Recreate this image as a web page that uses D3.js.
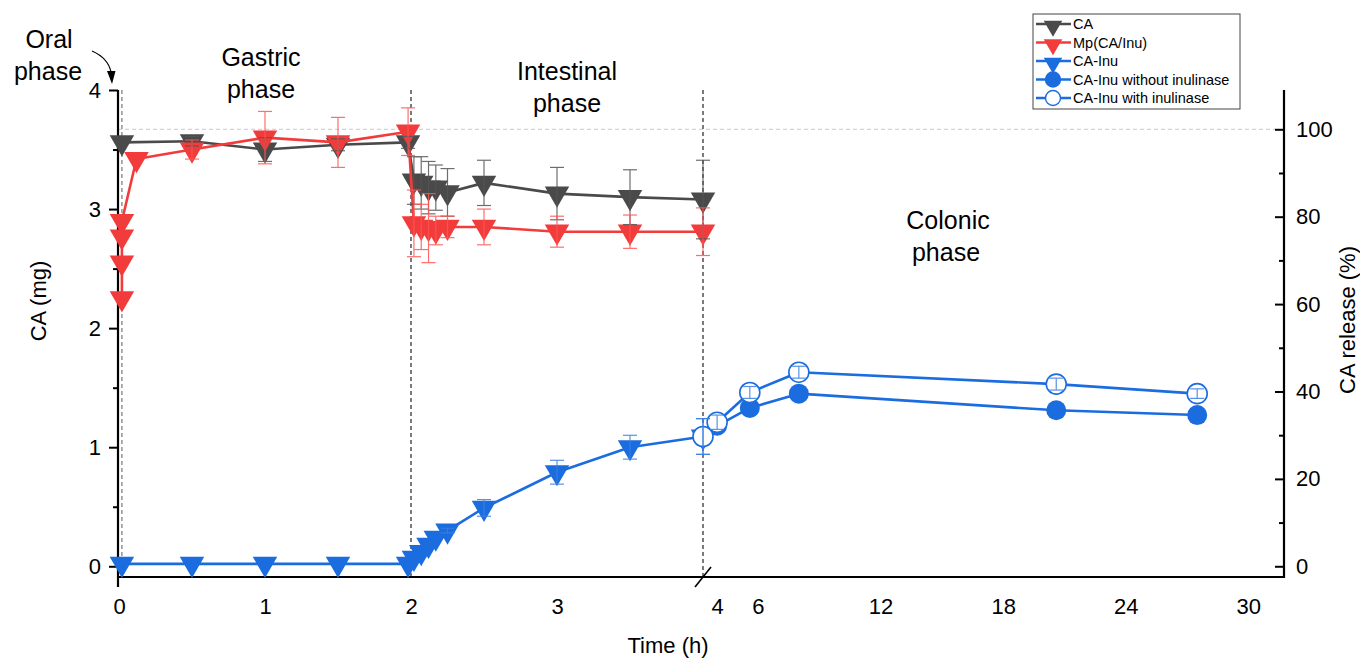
<!DOCTYPE html>
<html>
<head>
<meta charset="utf-8">
<script src="https://cdn.jsdelivr.net/npm/d3@7"></script>
<style>
  body { margin: 0; background: #fff; }
  svg text { font-family: Arial, "Liberation Sans", sans-serif; fill: #000; }
</style>
</head>
<body>
<svg id="chart" width="1360" height="658"></svg>
<script>
// ---- data ----
const caTime = [0.02, 0.5, 1, 1.5, 1.98, 2.02, 2.07, 2.12, 2.17, 2.25, 2.5, 3, 3.5, 4];
const caMg   = [3.56, 3.57, 3.5, 3.54, 3.56, 3.24, 3.22, 3.18, 3.18, 3.14, 3.22, 3.13, 3.1, 3.08];
const caErr  = [0, 0.04, 0.1, 0.05, 0.05, 0.2, 0.22, 0.22, 0.19, 0.2, 0.19, 0.22, 0.23, 0.33];

const mpTime = [0.02, 0.02, 0.02, 0.02, 0.12, 0.5, 1, 1.5, 1.98, 2.02, 2.07, 2.12, 2.17, 2.25, 2.5, 3, 3.5, 4];
const mpMg   = [2.25, 2.55, 2.77, 2.9, 3.42, 3.5, 3.6, 3.56, 3.65, 2.88, 2.85, 2.84, 2.82, 2.85, 2.85, 2.81, 2.81, 2.81];
const mpErr  = [0, 0, 0, 0, 0, 0.08, 0.22, 0.21, 0.2, 0.28, 0.19, 0.29, 0.12, 0.09, 0.15, 0.13, 0.14, 0.2];

const inuTime = [0.02, 0.5, 1, 1.5, 1.98, 2.02, 2.07, 2.12, 2.17, 2.25, 2.5, 3, 3.5, 4];
const inuMg   = [0.02, 0.02, 0.02, 0.02, 0.02, 0.07, 0.12, 0.18, 0.24, 0.3, 0.49, 0.79, 1.0, 1.09];
const inuErr  = [0, 0, 0, 0, 0, 0, 0, 0, 0, 0.02, 0.07, 0.1, 0.1, 0.15];

const colonTime = [4, 5.6, 8, 20.6, 27.5];
const withoutMg = [1.18, 1.33, 1.45, 1.31, 1.27];
const withMg    = [1.21, 1.46, 1.63, 1.53, 1.45];
const withErr   = [0.06, 0.05, 0.05, 0.05, 0.04];

const xTicksA = [0, 1, 2, 3];
const xTicksB = [4, 6, 12, 18, 24, 30];
const yTicks = [0, 1, 2, 3, 4];
const yMinor = [0.5, 1.5, 2.5, 3.5];
const rTicks = [0, 20, 40, 60, 80, 100];
const rMinor = [10, 30, 50, 70, 90];
const phaseLines = [0.02, 2, 4];
const fullMg = 3.67; // mass that equals 100 % release

const legendNames = ['CA', 'Mp(CA/Inu)', 'CA-Inu', 'CA-Inu without inulinase', 'CA-Inu with inulinase'];

// ---- colours ----
const gray = '#4a4a4a', red = '#f23c3c', blue = '#1b6ddf';

const svg = d3.select('#chart');
const fmt = d3.format('~g');

// broken time axis: two linear pieces
const xA = d3.scaleLinear().domain([0, 4]).range([119, 703]);
const xB = d3.scaleLinear().domain([3.7, 31.7]).range([711, 1283]);
const y = d3.scaleLinear().domain([-0.09, 4]).range([577, 90]);
const yR = d3.scaleLinear().domain([0, 100]).range([y(0), y(fullMg)]);

const plotL = 118, plotR = 1284, plotT = 90, plotB = 577;

// 100 % guide line
svg.append('line')
  .attr('x1', plotL).attr('x2', plotR - 8)
  .attr('y1', yR(100)).attr('y2', yR(100))
  .attr('stroke', '#c8c8c8').attr('stroke-width', 1).attr('stroke-dasharray', '4,3');

// phase separators
svg.selectAll('.phase-line').data(phaseLines).enter().append('line')
  .attr('class', 'phase-line')
  .attr('x1', d => xA(d)).attr('x2', d => xA(d))
  .attr('y1', plotT).attr('y2', plotB)
  .attr('stroke', (d, i) => i === 0 ? '#777' : '#222')
  .attr('stroke-width', 1.2)
  .attr('stroke-dasharray', '4,3');

// ---- axes ----
svg.append('g').attr('transform', `translate(${plotL},0)`)
  .call(d3.axisLeft(y).tickValues(yTicks).tickFormat(fmt).tickSize(9).tickPadding(8).tickSizeOuter(0));
svg.append('g').attr('transform', `translate(${plotL},0)`)
  .call(d3.axisLeft(y).tickValues(yMinor).tickSize(5).tickFormat('').tickSizeOuter(0));

svg.append('g').attr('transform', `translate(${plotR},0)`)
  .call(d3.axisRight(yR).tickValues(rTicks).tickFormat(fmt).tickSize(-9).tickPadding(12).tickSizeOuter(0));
svg.append('g').attr('transform', `translate(${plotR},0)`)
  .call(d3.axisRight(yR).tickValues(rMinor).tickSize(-5).tickFormat('').tickSizeOuter(0));

svg.append('g').attr('transform', `translate(0,${plotB})`)
  .call(d3.axisBottom(xA).tickValues(xTicksA).tickFormat(fmt).tickSize(0).tickPadding(21));
svg.append('g').attr('transform', `translate(0,${plotB})`)
  .call(d3.axisBottom(xB).tickValues(xTicksB).tickFormat(fmt).tickSize(0).tickPadding(21));

svg.selectAll('.domain').remove();
svg.selectAll('.tick line').attr('stroke', '#000').attr('stroke-width', 2);
svg.selectAll('.tick text').style('font-size', '22px').attr('fill', '#000');

// axis lines
svg.append('line').attr('x1', plotL).attr('x2', plotL).attr('y1', plotT).attr('y2', plotB + 10)
  .attr('stroke', '#000').attr('stroke-width', 2.2);
svg.append('line').attr('x1', plotR).attr('x2', plotR).attr('y1', plotT).attr('y2', plotB + 1)
  .attr('stroke', '#000').attr('stroke-width', 2.2);
svg.append('line').attr('x1', plotL).attr('x2', plotR + 1).attr('y1', plotB).attr('y2', plotB)
  .attr('stroke', '#000').attr('stroke-width', 2.2);

// axis break mark
svg.append('line')
  .attr('x1', xA(4) - 8).attr('y1', plotB + 10)
  .attr('x2', xA(4) + 8).attr('y2', plotB - 10)
  .attr('stroke', '#000').attr('stroke-width', 1.6);

// axis titles
svg.append('text').attr('transform', 'translate(46,301) rotate(-90)')
  .attr('text-anchor', 'middle').style('font-size', '22px').text('CA (mg)');
svg.append('text').attr('transform', 'translate(1355,320) rotate(-90)')
  .attr('text-anchor', 'middle').style('font-size', '22px').text('CA release (%)');
svg.append('text').attr('x', 668).attr('y', 653)
  .attr('text-anchor', 'middle').style('font-size', '22px').text('Time (h)');

// ---- series ----
function pts(times, vals, errs, xs) {
  return times.map((t, i) => ({
    x: xs(t), y: y(vals[i]),
    lo: y(vals[i] - (errs ? errs[i] : 0)), hi: y(vals[i] + (errs ? errs[i] : 0)),
    e: errs ? errs[i] : 0
  }));
}

const caPts = pts(caTime, caMg, caErr, xA);
const mpPts = pts(mpTime, mpMg, mpErr, xA);
const inuPts = pts(inuTime, inuMg, inuErr, xA);
const withoutPts = pts(colonTime, withoutMg, null, xB);
const withPts = [inuPts[inuPts.length - 1]].concat(pts(colonTime, withMg, withErr, xB));

const line = d3.line().x(d => d.x).y(d => d.y);
const triangle = d3.symbol(d3.symbolTriangle, 260);

function drawLine(data, color) {
  svg.append('path').datum(data)
    .attr('d', line).attr('fill', 'none')
    .attr('stroke', color).attr('stroke-width', 2.6).attr('stroke-linejoin', 'round');
}

function drawTriangles(data, color) {
  svg.append('g').selectAll('path').data(data).enter().append('path')
    .attr('d', triangle)
    .attr('transform', d => `translate(${d.x},${d.y}) rotate(180)`)
    .attr('fill', color);
}

function drawErrors(data, color) {
  const g = svg.append('g').attr('stroke', color).attr('stroke-width', 1.2).attr('opacity', 0.85);
  const withE = data.filter(d => d.e > 0);
  g.selectAll('.v').data(withE).enter().append('line')
    .attr('x1', d => d.x).attr('x2', d => d.x).attr('y1', d => d.lo).attr('y2', d => d.hi);
  ['lo', 'hi'].forEach(k => {
    g.selectAll('.' + k).data(withE).enter().append('line')
      .attr('x1', d => d.x - 7).attr('x2', d => d.x + 7)
      .attr('y1', d => d[k]).attr('y2', d => d[k]);
  });
}

drawLine(caPts, gray);
drawTriangles(caPts, gray);
drawLine(mpPts, red);
drawTriangles(mpPts, red);
drawLine(inuPts, blue);
drawTriangles(inuPts, blue);
drawLine(withoutPts, blue);
svg.append('g').selectAll('circle').data(withoutPts).enter().append('circle')
  .attr('cx', d => d.x).attr('cy', d => d.y).attr('r', 10).attr('fill', blue);
drawLine(withPts, blue);
svg.append('g').selectAll('circle').data(withPts).enter().append('circle')
  .attr('cx', d => d.x).attr('cy', d => d.y).attr('r', 10)
  .attr('fill', '#fff').attr('stroke', blue).attr('stroke-width', 1.6);

drawErrors(caPts, '#555');
drawErrors(mpPts, '#f55');
drawErrors(inuPts, '#3b80e2');
drawErrors(withPts, '#3b80e2');

// ---- phase labels ----
const phaseText = [
  { x: 49, y: 48, t: 'Oral' }, { x: 48, y: 80, t: 'phase' },
  { x: 261, y: 66, t: 'Gastric' }, { x: 261, y: 98, t: 'phase' },
  { x: 567, y: 80, t: 'Intestinal' }, { x: 567, y: 112, t: 'phase' },
  { x: 948, y: 229, t: 'Colonic' }, { x: 946, y: 261, t: 'phase' }
];
svg.selectAll('.phase').data(phaseText).enter().append('text')
  .attr('class', 'phase')
  .attr('x', d => d.x).attr('y', d => d.y)
  .attr('text-anchor', 'middle').style('font-size', '25px')
  .text(d => d.t);

// curved arrow for the oral phase
svg.append('path').attr('d', 'M92,51 Q108,58 111,72')
  .attr('fill', 'none').attr('stroke', '#000').attr('stroke-width', 1.2);
svg.append('path').attr('d', 'M107,71 L115.5,71 L112,84 Z').attr('fill', '#000');

// ---- legend ----
const legend = svg.append('g');
legend.append('rect').attr('x', 1033).attr('y', 14).attr('width', 207).attr('height', 95)
  .attr('fill', '#fff').attr('stroke', '#444').attr('stroke-width', 1);

const legendColors = [gray, red, blue, blue, blue];
const legendMarks = ['tri', 'tri', 'tri', 'dot', 'open'];
const rows = legend.selectAll('.row').data(legendNames).enter().append('g')
  .attr('transform', (d, i) => `translate(1036,${24 + i * 18.5})`);
rows.append('line').attr('x1', 0).attr('x2', 35).attr('y1', 0).attr('y2', 0)
  .attr('stroke', (d, i) => legendColors[i]).attr('stroke-width', 2.4);
rows.each(function (d, i) {
  const r = d3.select(this);
  if (legendMarks[i] === 'tri') {
    r.append('path').attr('d', d3.symbol(d3.symbolTriangle, 150))
      .attr('transform', 'translate(17,2) rotate(180)').attr('fill', legendColors[i]);
  } else {
    r.append('circle').attr('cx', 17).attr('cy', 0).attr('r', 7.5)
      .attr('fill', legendMarks[i] === 'dot' ? legendColors[i] : '#fff')
      .attr('stroke', legendColors[i]).attr('stroke-width', 1.4);
  }
});
rows.append('text').attr('x', 37).attr('y', 5).style('font-size', '14.5px').text(d => d);
</script>
</body>
</html>
